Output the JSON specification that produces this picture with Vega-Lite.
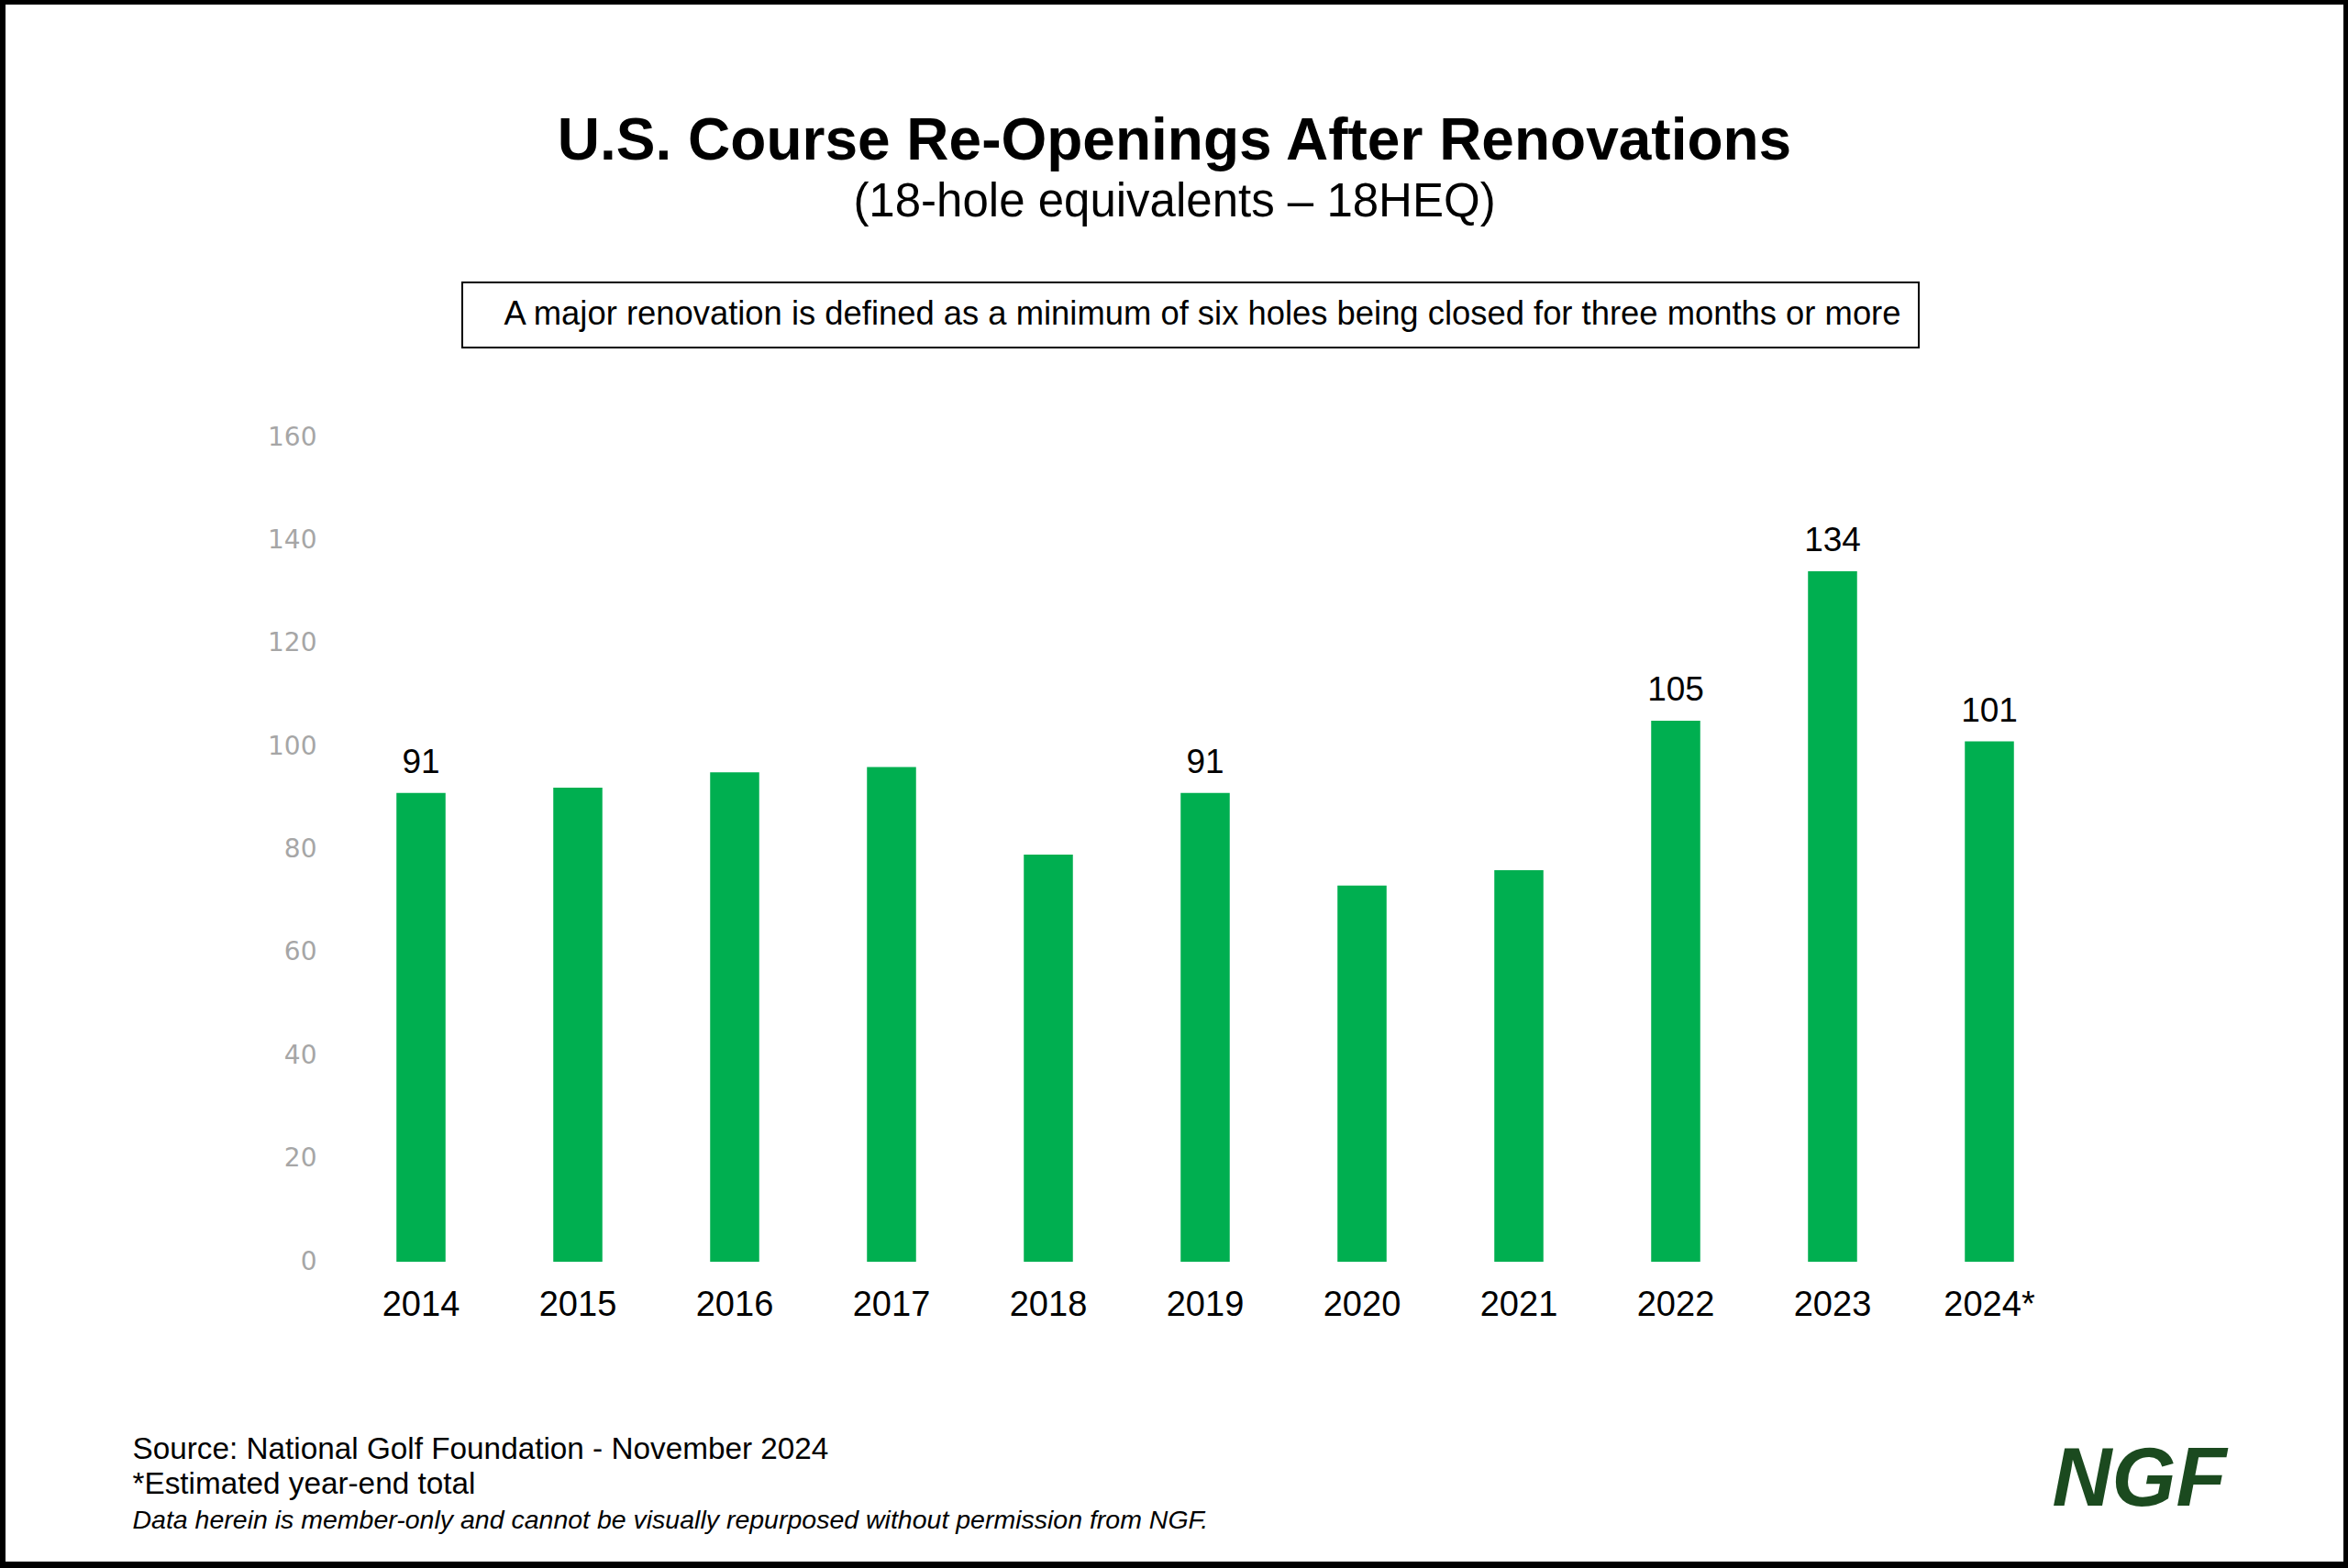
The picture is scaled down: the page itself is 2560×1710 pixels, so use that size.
{
  "$schema": "https://vega.github.io/schema/vega-lite/v6.json",
  "width": 2549,
  "height": 1698,
  "autosize": "none",
  "padding": {"left": 6, "top": 5, "right": 5, "bottom": 7},
  "background": "black",
  "title": {
    "text": "U.S. Course Re-Openings After Renovations",
    "subtitle": "(18-hole equivalents – 18HEQ)",
    "anchor": "middle",
    "frame": "group",
    "offset": -241,
    "font": "Liberation Sans",
    "fontSize": 64,
    "fontWeight": "bold",
    "color": "black",
    "subtitleFont": "Liberation Sans",
    "subtitleFontSize": 51,
    "subtitleColor": "black",
    "subtitlePadding": 9
  },
  "data": {
    "values": [
      {"year": "2014", "value": 91},
      {"year": "2015", "value": 92},
      {"year": "2016", "value": 95},
      {"year": "2017", "value": 96},
      {"year": "2018", "value": 79},
      {"year": "2019", "value": 91},
      {"year": "2020", "value": 73},
      {"year": "2021", "value": 76},
      {"year": "2022", "value": 105},
      {"year": "2023", "value": 134},
      {"year": "2024*", "value": 101}
    ]
  },
  "encoding": {
    "y": {
      "field": "value",
      "type": "quantitative",
      "scale": {"domain": [0, 160], "range": [1371, 472], "nice": false, "zero": true},
      "axis": {
        "values": [0, 20, 40, 60, 80, 100, 120, 140, 160],
        "title": "Data herein is member-only and cannot be visually repurposed without permission from NGF.",
        "titleAngle": 0,
        "titleX": -201,
        "titleY": 1661,
        "titleAlign": "left",
        "titleBaseline": "alphabetic",
        "titleFont": "Liberation Sans",
        "titleFontSize": 28.5,
        "titleFontStyle": "italic",
        "titleFontWeight": "normal",
        "titleColor": "black",
        "offset": -339,
        "domain": false,
        "ticks": false,
        "tickSize": 0,
        "grid": false,
        "labelPadding": 0,
        "labelFont": "DejaVu Sans",
        "labelFontSize": 28,
        "labelColor": "#A6A6A6"
      }
    }
  },
  "layer": [
    {
      "mark": {"type": "bar"},
      "encoding": {
        "x": {
          "field": "year",
          "type": "nominal",
          "sort": null,
          "scale": {
            "domain": ["2014", "2015", "2016", "2017", "2018", "2019", "2020", "2021", "2022", "2023", "2024*"],
            "range": [367.5, 2248.5],
            "paddingInner": 0.687,
            "paddingOuter": 0.3435
          },
          "axis": {
            "orient": "bottom",
            "offset": -327,
            "domain": false,
            "ticks": false,
            "tickSize": 0,
            "grid": false,
            "labelAngle": 0,
            "labelPadding": 58,
            "labelBaseline": "alphabetic",
            "labelFont": "Liberation Sans",
            "labelFontSize": 38,
            "labelColor": "black",
            "title": ["Source: National Golf Foundation - November 2024", "*Estimated year-end total"],
            "titleX": 138,
            "titleY": 214,
            "titleAlign": "left",
            "titleAnchor": "start",
            "titleBaseline": "alphabetic",
            "titleLineHeight": 38,
            "titleFont": "Liberation Sans",
            "titleFontSize": 33.3,
            "titleFontWeight": "normal",
            "titleColor": "black"
          }
        },
        "color": {
          "datum": "A major renovation is defined as a minimum of six holes being closed for three months or more",
          "type": "nominal",
          "scale": {"range": ["#00AF50"]},
          "legend": {
            "orient": "none",
            "legendX": 498,
            "legendY": 303,
            "title": null,
            "padding": 17,
            "labelOffset": -8,
            "labelFont": "Liberation Sans",
            "labelFontSize": 36.4,
            "labelColor": "black",
            "labelLimit": 3000,
            "symbolOpacity": 0,
            "symbolSize": 0,
            "symbolStrokeWidth": 0,
            "strokeColor": "black"
          }
        }
      }
    },
    {
      "transform": [{"filter": {"field": "year", "oneOf": ["2014", "2019", "2022", "2023", "2024*"]}}],
      "mark": {"type": "text", "baseline": "alphabetic", "dy": -22, "font": "Liberation Sans", "fontSize": 37, "color": "black"},
      "encoding": {
        "x": {
          "field": "year",
          "type": "nominal",
          "sort": null,
          "axis": {
            "orient": "top",
            "labels": false,
            "domain": false,
            "ticks": false,
            "grid": false,
            "title": "NGF",
            "titleX": 2231,
            "titleY": 1636,
            "titleAlign": "left",
            "titleAnchor": "start",
            "titleBaseline": "alphabetic",
            "titleFont": "Liberation Sans",
            "titleFontSize": 90,
            "titleFontWeight": "bold",
            "titleFontStyle": "italic",
            "titleColor": "#1B4A1F"
          }
        },
        "text": {"field": "value", "type": "quantitative"}
      }
    }
  ],
  "resolve": {"axis": {"x": "independent"}},
  "config": {
    "view": {"fill": "white", "stroke": null},
    "legend": {"strokeWidth": 2}
  }
}
